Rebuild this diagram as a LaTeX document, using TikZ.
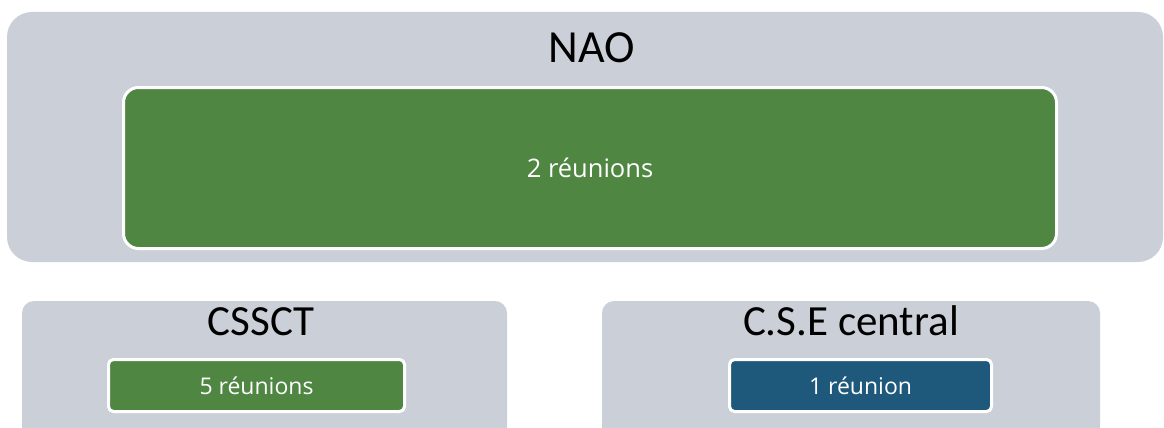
\documentclass[tikz,border=0pt]{standalone}
\usepackage{fontspec}
\setmainfont{Carlito}
\newfontfamily\countfont{Open Sans}
\usepackage{tikz}
\definecolor{panelgray}{RGB}{203,208,216}
\definecolor{boxgreen}{RGB}{79,134,66}
\definecolor{boxblue}{RGB}{30,89,124}

\tikzset{
  panel/.style={fill=panelgray,rounded corners=#1},
  count/.style={draw=white,line width=3pt,text=white,font=\countfont\fontsize{23}{27}\selectfont,
    rounded corners=#1,inner sep=0pt},
  title/.style={anchor=base,text=black}
}

\begin{document}
\begin{tikzpicture}[line cap=round,line join=round,x=1pt,y=-1pt]
    \useasboundingbox (0,0) rectangle (1164,428);

    % top panel
    \fill [panel=25pt] (7,12) rectangle (1163,262);
    \node [title,font=\fontsize{46}{50}\selectfont] (nao) at (592,63) {NAO};
    \node [count=15pt,fill=boxgreen,minimum width=933pt,minimum height=161pt,
      font=\countfont\fontsize{25.5}{30}\selectfont] (naocount) at (590,168) {2 réunions};

    % bottom panels
    \fill [panel=12pt] (22,301) rectangle (507,445);
    \fill [panel=12pt] (602,301) rectangle (1100,445);

    \node [title,font=\fontsize{43}{47}\selectfont] (cssct) at (261,335) {CSSCT};
    \node [count=5pt,fill=boxgreen,minimum width=296pt,minimum height=52pt] (cssctcount) at (256.5,385.5) {5 réunions};

    \node [title,font=\fontsize{43}{47}\selectfont] (cse) at (851,335) {C.S.E central};
    \node [count=5pt,fill=boxblue,minimum width=262pt,minimum height=52pt] (csecount) at (860.5,385.5) {1 réunion};
\end{tikzpicture}
\end{document}
